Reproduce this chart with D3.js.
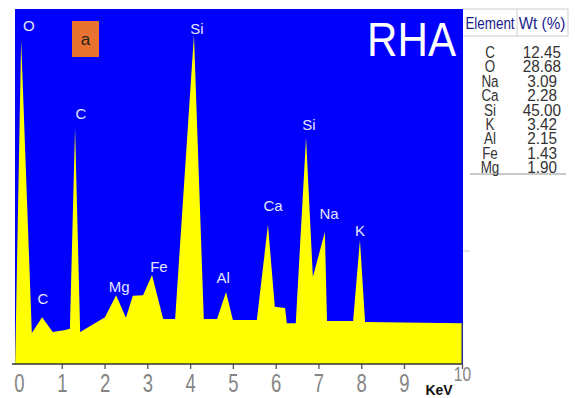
<!DOCTYPE html>
<meta charset="utf-8">
<style>
body { margin: 0; background: #fff; }
svg { display: block; }
.peak-label {
  font: 15px "Liberation Sans", Arial, sans-serif;
  fill: #e4e6ff;
  text-anchor: middle;
}
.tick text {
  font-family: "Liberation Sans", Arial, sans-serif;
  fill: #858585;
}
.tbl {
  font-family: "Liberation Sans", Arial, sans-serif;
  font-size: 17px;
  text-anchor: middle;
}
</style>
<svg width="575" height="398"></svg>
<script src="https://d3js.org/d3.v7.min.js"></script>
<script>

// spectrum outline (energy in keV, counts in arbitrary units)
var energy = [-0.09, 0.05, 0.30, 0.54, 0.79, 1.08, 1.19, 1.31, 1.43, 2.01,
              2.27, 2.50, 2.66, 2.90, 3.11, 3.37, 3.65, 4.09, 4.32, 4.63,
              4.84, 5.00, 5.56, 5.82, 5.98, 6.22, 6.26, 6.47, 6.71, 6.87,
              7.15, 7.20, 7.81, 7.97, 8.09, 10.0, 10.0];
var counts = [0, 91.3, 8.7, 13.2, 9.0, 9.6, 9.9, 66.5, 9.0, 13.2,
              19.4, 13.0, 19.2, 19.4, 25.1, 12.7, 12.7, 92.7, 12.7, 12.7,
              20.3, 12.4, 12.4, 39.2, 16.1, 15.8, 11.5, 11.5, 63.7, 24.5,
              37.2, 12.1, 12.1, 34.9, 11.8, 11.5, 0];

// peak labels: element, keV, counts where the label sits
var peakNames  = ["O", "Si", "C", "C", "Mg", "Fe", "Al", "Ca", "Si", "Na", "K"];
var peakEnergy = [0.23, 4.16, 1.45, 0.56, 2.34, 3.27, 4.77, 5.94, 6.78, 7.25, 7.97];
var peakCounts = [95.2, 94.4, 70.4, 18.3, 21.9, 27.3, 24.2, 44.5, 67.3, 42.5, 37.5];

var tickValues = [0, 1, 2, 3, 4, 5, 6, 7, 8, 9, 10];

// composition table
var elements = ["C", "O", "Na", "Ca", "Si", "K", "Al", "Fe", "Mg"];
var weights  = ["12.45", "28.68", "3.09", "2.28", "45.00", "3.42", "2.15", "1.43", "1.90"];

var svg = d3.select("svg");

// the axis is not evenly spaced in the original: 10 sits further out
var x = d3.scaleLinear().domain([0, 9, 10]).range([19, 404, 462]);
var y = d3.scaleLinear().domain([0, 100]).range([364, 9]);

// no narrow font installed, so squeeze text horizontally
var narrow = "scale(0.74,1)";

// blue background panel
svg.append("rect")
    .attr("x", 15).attr("y", 9)
    .attr("width", 448).attr("height", 355)
    .attr("fill", "#0000fc");

var points = energy.map(function(e, i) { return [e, counts[i]]; });

var area = d3.area()
    .x(function(d) { return x(d[0]); })
    .y0(y(0))
    .y1(function(d) { return y(d[1]); });

svg.append("path")
    .datum(points)
    .attr("d", area)
    .attr("fill", "#ffff00");

// dark right edge of the spectrum
svg.append("line")
    .attr("x1", x(10)).attr("x2", x(10))
    .attr("y1", y(counts[counts.length - 2])).attr("y2", y(0))
    .attr("stroke", "#4a4a66").attr("stroke-width", 1.2);

svg.selectAll(".peak-label")
    .data(peakNames)
    .enter().append("text")
      .attr("class", "peak-label")
      .attr("x", function(d, i) { return x(peakEnergy[i]); })
      .attr("y", function(d, i) { return y(peakCounts[i]); })
      .attr("dy", "0.36em")
      .text(function(d) { return d; });

// "a" badge
svg.append("rect")
    .attr("x", 72).attr("y", 21)
    .attr("width", 27).attr("height", 36)
    .attr("fill", "#e8722f");
svg.append("text")
    .attr("x", 85.5).attr("y", 45)
    .attr("text-anchor", "middle")
    .style("font", "17px 'Liberation Sans', Arial, sans-serif")
    .style("fill", "#222")
    .text("a");

svg.append("text")
    .attr("x", 367).attr("y", 56)
    .attr("textLength", 89)
    .attr("lengthAdjust", "spacingAndGlyphs")
    .style("font", "48px 'Liberation Sans', Arial, sans-serif")
    .style("fill", "#fff")
    .text("RHA");

// x axis
var xAxis = d3.axisBottom(x)
    .tickValues(tickValues)
    .tickSize(5)
    .tickPadding(5)
    .tickFormat(d3.format("d"));

var gx = svg.append("g")
    .attr("transform", "translate(0," + y(0) + ")")
    .call(xAxis);

gx.select(".domain").remove();
gx.selectAll(".tick line").attr("stroke", "#555").attr("stroke-width", 1.3);
gx.selectAll(".tick text")
    .style("font-size", "25px")
    .attr("transform", narrow);
gx.selectAll(".tick")
    .filter(function(d) { return d === 0; })
    .select("line").remove();
gx.selectAll(".tick")
    .filter(function(d) { return d === 10; })
    .select("text")
      .style("font-size", "21px")
      .attr("y", 2);

svg.append("line")
    .attr("x1", 12).attr("x2", x(10))
    .attr("y1", y(0)).attr("y2", y(0))
    .attr("stroke", "#333").attr("stroke-width", 1.6);

svg.append("text")
    .attr("x", 439).attr("y", 395)
    .attr("text-anchor", "middle")
    .style("font", "bold 14px 'Liberation Sans', Arial, sans-serif")
    .style("fill", "#111")
    .text("KeV");

// table on the right
var tbl = svg.append("g");
var colEl = 490, colWt = 542;

function cell(cx, cy, txt, color, sx) {
  tbl.append("g")
      .attr("transform", "translate(" + cx + "," + cy + ")")
    .append("text")
      .attr("class", "tbl")
      .attr("transform", "scale(" + sx + ",1)")
      .style("fill", color)
      .text(txt);
}

tbl.append("line").attr("x1", 463).attr("x2", 568).attr("y1", 9).attr("y2", 9);
tbl.append("line").attr("x1", 463).attr("x2", 568).attr("y1", 36).attr("y2", 36);
tbl.append("line").attr("x1", 517).attr("x2", 517).attr("y1", 9).attr("y2", 36);
tbl.append("line").attr("x1", 568).attr("x2", 568).attr("y1", 9).attr("y2", 36);
tbl.append("line").attr("x1", 470).attr("x2", 566).attr("y1", 174).attr("y2", 174);
tbl.append("line").attr("x1", 463).attr("x2", 470).attr("y1", 251).attr("y2", 251);
tbl.selectAll("line")
    .attr("stroke", function() { return d3.select(this).attr("y1") == 174 ? "#888" : "#c8c8c8"; })
    .attr("stroke-width", 0.9);

cell(colEl, 29, "Element", "#1b1b8a", 0.79);
cell(colWt, 29, "Wt (%)", "#1b1b8a", 0.9);

elements.forEach(function(d, i) {
  cell(colEl, 58 + i * 14.4, d, "#333", 0.79);
  cell(colWt, 58 + i * 14.4, weights[i], "#333", 0.9);
});

</script>
